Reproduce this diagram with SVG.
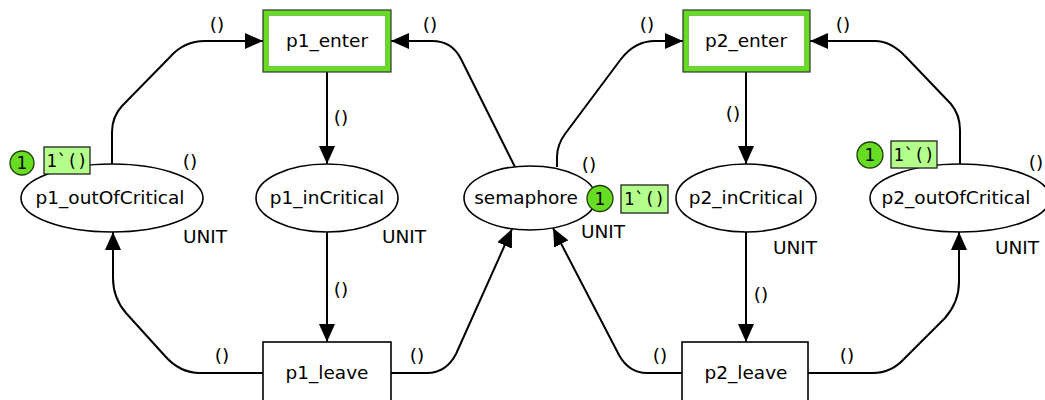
<svg xmlns="http://www.w3.org/2000/svg" width="1045" height="400" viewBox="0 0 1045 400">
  <defs>
    <marker id="arrow" markerUnits="userSpaceOnUse" markerWidth="18" markerHeight="16" refX="18" refY="8" orient="auto">
      <path d="M0,0 L18,8 L0,16 z" fill="#000"/>
    </marker>
    <style>
      text { font-family: "DejaVu Sans", Verdana, sans-serif; font-size: 18.5px; fill: #000; text-anchor: middle; }
      .place { fill: #fff; stroke: #000; stroke-width: 1.6; }
      .trans { fill: #fff; stroke: #000; stroke-width: 1.6; }
      .enabled { fill: #66dd22; stroke: #333; stroke-width: 1.2; }
      .arc { fill: none; stroke: #000; stroke-width: 2; marker-end: url(#arrow); }
      .count { fill: #66dd22; stroke: #1f3d0a; stroke-width: 1.3; }
      .marking { fill: #b4ff8c; stroke: #222; stroke-width: 1.3; }
      .mono { font-family: "DejaVu Sans Mono", "Liberation Mono", monospace; font-size: 17px; }
      .cnt { font-size: 17px; }
    </style>
  </defs>

  <!-- arcs -->
  <g id="arcs">
    <path class="arc" d="M112,165 L112,132 Q112,117 122,106 L170,57 Q184,41 205,41 L263,41"/>
    <path class="arc" d="M327,72 L327,164"/>
    <path class="arc" d="M515,167 L461,59 Q452,41 432,41 L391,41"/>
    <path class="arc" d="M557,167 L557,157 Q557,145 565,134 L621,59 Q635,41 655,41 L683,41"/>
    <path class="arc" d="M746,72 L746,164"/>
    <path class="arc" d="M960,165 L960,130 Q960,115 951,104 L906,57 Q891,41 875,41 L810,41"/>
    <path class="arc" d="M327,232 L327,342"/>
    <path class="arc" d="M263,373 L200,373 Q180,373 165,356 L126,313 Q113,298 113,278 L113,232"/>
    <path class="arc" d="M391,373 L427,373 Q446,373 456,354 L512,229"/>
    <path class="arc" d="M682,373 L647,373 Q629,373 619,355 L553,228"/>
    <path class="arc" d="M808,373 L873,373 Q891,373 904,359 L945,318 Q959,302 959,282 L959,232"/>
    <path class="arc" d="M746,232 L746,342"/>
    <!-- arc inscriptions -->
    <text x="217" y="31">()</text>
    <text x="341" y="124">()</text>
    <text x="430" y="31">()</text>
    <text x="647" y="31">()</text>
    <text x="733" y="120">()</text>
    <text x="843" y="31">()</text>
    <text x="341" y="296">()</text>
    <text x="222" y="362">()</text>
    <text x="417" y="362">()</text>
    <text x="660" y="362">()</text>
    <text x="847" y="362">()</text>
    <text x="761" y="301">()</text>
  </g>

  <!-- transitions -->
  <g id="p1_enter">
    <rect class="enabled" x="263" y="10" width="128" height="62"/>
    <rect x="268.5" y="15.5" width="117" height="51" fill="#fff" stroke="#5aa030" stroke-width="0.6"/>
    <text x="327" y="47">p1_enter</text>
  </g>
  <g id="p2_enter">
    <rect class="enabled" x="683" y="10" width="127" height="62"/>
    <rect x="688.5" y="15.5" width="116" height="51" fill="#fff" stroke="#5aa030" stroke-width="0.6"/>
    <text x="746" y="47">p2_enter</text>
  </g>
  <g id="p1_leave">
    <rect class="trans" x="263" y="342" width="128" height="64"/>
    <text x="327" y="379">p1_leave</text>
  </g>
  <g id="p2_leave">
    <rect class="trans" x="682" y="342" width="126" height="64"/>
    <text x="746" y="379">p2_leave</text>
  </g>

  <!-- places -->
  <g id="p1_outOfCritical">
    <ellipse class="place" cx="112" cy="198" rx="91" ry="34"/>
    <text x="110" y="204">p1_outOfCritical</text>
    <text x="205" y="243">UNIT</text>
    <text x="190" y="168">()</text>
    <circle class="count" cx="22" cy="163" r="12"/>
    <text class="cnt" x="22" y="169">1</text>
    <rect class="marking" x="44" y="147" width="46" height="27"/>
    <text class="mono" x="67" y="167">1`()</text>
  </g>
  <g id="p1_inCritical">
    <ellipse class="place" cx="327" cy="198" rx="71" ry="34"/>
    <text x="327" y="204">p1_inCritical</text>
    <text x="404" y="243">UNIT</text>
  </g>
  <g id="semaphore">
    <ellipse class="place" cx="530" cy="198" rx="66" ry="32"/>
    <text x="526" y="204">semaphore</text>
    <text x="603" y="238">UNIT</text>
    <text x="589" y="171">()</text>
    <circle class="count" cx="600" cy="198.5" r="13"/>
    <text class="cnt" x="600" y="204.5">1</text>
    <rect class="marking" x="621" y="185" width="47" height="28"/>
    <text class="mono" x="644.5" y="205">1`()</text>
  </g>
  <g id="p2_inCritical">
    <ellipse class="place" cx="746" cy="198" rx="70" ry="34"/>
    <text x="746" y="204">p2_inCritical</text>
    <text x="795" y="254">UNIT</text>
  </g>
  <g id="p2_outOfCritical">
    <ellipse class="place" cx="960" cy="198" rx="90" ry="34"/>
    <text x="956" y="204">p2_outOfCritical</text>
    <text x="1017" y="254">UNIT</text>
    <text x="1036" y="169">()</text>
    <circle class="count" cx="870" cy="155" r="13"/>
    <text class="cnt" x="870" y="161">1</text>
    <rect class="marking" x="891" y="141" width="46" height="27"/>
    <text class="mono" x="914" y="161">1`()</text>
  </g>
</svg>
